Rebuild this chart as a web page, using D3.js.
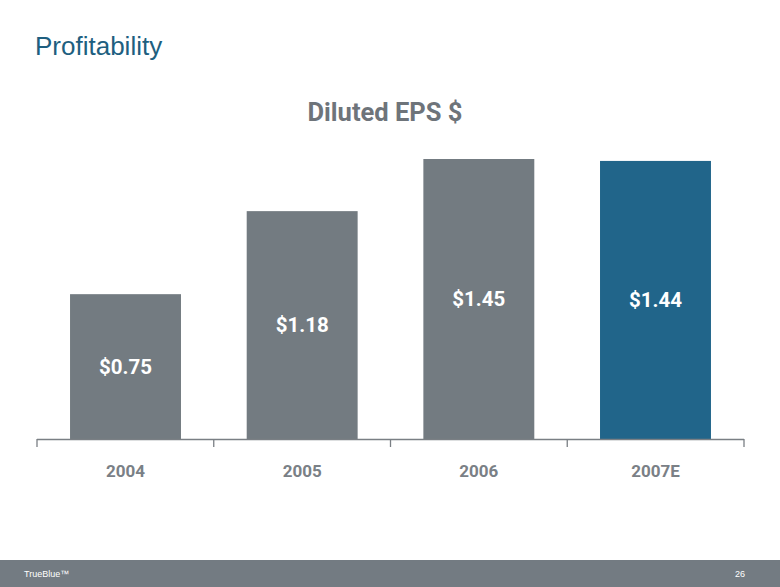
<!DOCTYPE html>
<html>
<head>
<meta charset="utf-8">
<script src="https://cdn.jsdelivr.net/npm/d3@7"></script>
<style>
  html, body { margin: 0; padding: 0; background: #fff; }
  svg { display: block; }
</style>
</head>
<body>
<svg id="chart" width="780" height="587"></svg>
<script>
const categories = ["2004", "2005", "2006", "2007E"];
const values = [0.75, 1.18, 1.45, 1.44];
const valueLabels = ["$0.75", "$1.18", "$1.45", "$1.44"];
const barColors = ["#737b81", "#737b81", "#737b81", "#21658a"];

const svg = d3.select("#chart");
const W = 780, H = 587;

// Slide title
svg.append("text")
  .attr("x", 35).attr("y", 55)
  .attr("font-family", "Liberation Sans, Arial, sans-serif")
  .attr("font-size", 26)
  .attr("fill", "#1e5f80")
  .text("Profitability");

// Chart title
svg.append("text")
  .attr("x", 385).attr("y", 121)
  .attr("text-anchor", "middle")
  .attr("font-family", "Roboto, sans-serif")
  .attr("font-weight", 700)
  .attr("font-size", 25.5)
  .attr("fill", "#6e747a")
  .text("Diluted EPS $");

const x = d3.scaleBand()
  .domain(categories)
  .range([37, 744])
  .paddingInner(0.372)
  .paddingOuter(0.187);

const y = d3.scaleLinear()
  .domain([0, 1.45])
  .range([439, 159]);

// Bars
svg.append("g").selectAll("rect")
  .data(values)
  .join("rect")
  .attr("x", (d, i) => x(categories[i]))
  .attr("y", d => y(d))
  .attr("width", x.bandwidth())
  .attr("height", d => y(0) - y(d))
  .attr("fill", (d, i) => barColors[i]);

// Value labels
svg.append("g").selectAll("text")
  .data(values)
  .join("text")
  .attr("x", (d, i) => x(categories[i]) + x.bandwidth() / 2)
  .attr("y", d => (y(d) + y(0)) / 2)
  .attr("dy", "0.35em")
  .attr("text-anchor", "middle")
  .attr("font-family", "Roboto, sans-serif")
  .attr("font-weight", 700)
  .attr("font-size", 20.5)
  .attr("fill", "#ffffff")
  .text((d, i) => valueLabels[i]);

// Axis: baseline with ticks at category boundaries
const bx = d3.scaleLinear().domain([0, categories.length]).range(x.range());

const axis = svg.append("g").attr("transform", `translate(0,${y(0)})`);
axis.append("line")
  .attr("x1", bx(0)).attr("x2", bx(categories.length))
  .attr("y1", 0.5).attr("y2", 0.5)
  .attr("stroke", "#7a7f84").attr("stroke-width", 1.3);
axis.selectAll(".tick")
  .data(d3.range(categories.length + 1))
  .join("line")
  .attr("class", "tick")
  .attr("x1", d => bx(d)).attr("x2", d => bx(d))
  .attr("y1", 0).attr("y2", 8)
  .attr("stroke", "#7a7f84").attr("stroke-width", 1.3);

// Category labels
svg.append("g").selectAll("text")
  .data(categories)
  .join("text")
  .attr("x", d => x(d) + x.bandwidth() / 2)
  .attr("y", 477)
  .attr("text-anchor", "middle")
  .attr("font-family", "Roboto, sans-serif")
  .attr("font-weight", 700)
  .attr("font-size", 17)
  .attr("fill", "#7a8086")
  .text(d => d);

// Footer band
svg.append("rect")
  .attr("x", 0).attr("y", 560).attr("width", W).attr("height", 27)
  .attr("fill", "#737b82");
svg.append("text")
  .attr("x", 24).attr("y", 577)
  .attr("font-family", "Liberation Sans, Arial, sans-serif")
  .attr("font-size", 9)
  .attr("fill", "#ffffff")
  .text("TrueBlue™");
svg.append("text")
  .attr("x", 745).attr("y", 577)
  .attr("text-anchor", "end")
  .attr("font-family", "Liberation Sans, Arial, sans-serif")
  .attr("font-size", 9)
  .attr("fill", "#ffffff")
  .text("26");
</script>
</body>
</html>
